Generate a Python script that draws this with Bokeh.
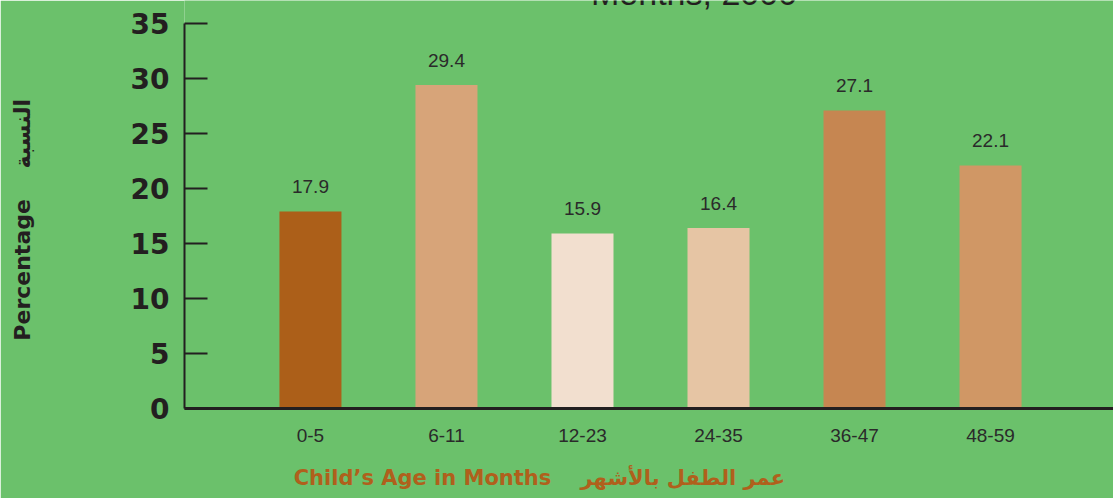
from bokeh.plotting import figure
from bokeh.models import Range1d, FixedTicker, Label, ColumnDataSource
from bokeh.core.properties import value
from bokeh.embed import file_html
from bokeh.resources import INLINE

# ---- data ----
categories = ["0-5", "6-11", "12-23", "24-35", "36-47", "48-59"]
percentages = [17.9, 29.4, 15.9, 16.4, 27.1, 22.1]
bar_colors = ["#ac5f19", "#d7a479", "#f2dfcf", "#e6c5a4", "#c68651", "#d09765"]
y_ticks = [0, 5, 10, 15, 20, 25, 30, 35]
title_text = "Months, 2000"
NB = "\u00a0"
x_title = "Child\u2019s Age in Months" + NB * 3 + " عمر الطفل بالأشهر" + NB * 30
y_title = "Percentage" + NB * 3 + " النسبة" + NB * 4

GREEN = "#6bc16b"
DARK = "#231f20"
ORANGE = "#b0601c"

xs = list(range(len(categories)))
src = ColumnDataSource(dict(
    x=xs,
    top=percentages,
    color=bar_colors,
    label=[f"{v:.1f}" for v in percentages],
))

p = figure(width=1113, height=498, output_backend="svg", toolbar_location=None,
           x_range=Range1d(-0.926, 5.904), y_range=Range1d(0, 37.09),
           min_border_left=184, min_border_right=0, min_border_top=0, min_border_bottom=90)

p.background_fill_color = GREEN
p.border_fill_color = GREEN
p.outline_line_color = None
p.grid.visible = False

p.vbar(x="x", top="top", width=0.456, fill_color="color", line_color=None, source=src)
p.text(x="x", y="top", text="label", source=src, text_align="center", text_baseline="middle",
       y_offset=-25, text_font=value("Liberation Sans"), text_font_size="19px", text_color="#2a2a2a")

# y axis
ya = p.yaxis[0]
ya.ticker = FixedTicker(ticks=y_ticks)
ya.bounds = (0, 35)
ya.axis_line_color = DARK
ya.axis_line_width = 2
ya.major_tick_line_color = DARK
ya.major_tick_line_width = 2
ya.major_tick_in = 23
ya.major_tick_out = 0
ya.minor_tick_line_color = None
ya.major_label_standoff = 15
ya.major_label_text_font = "DejaVu Sans"
ya.major_label_text_font_style = "bold"
ya.major_label_text_font_size = "28px"
ya.major_label_text_color = DARK
ya.axis_label = y_title
ya.axis_label_standoff = 93
ya.axis_label_text_font = "DejaVu Sans"
ya.axis_label_text_font_style = "bold"
ya.axis_label_text_font_size = "22px"
ya.axis_label_text_color = DARK

# x axis
xa = p.xaxis[0]
xa.ticker = FixedTicker(ticks=xs)
xa.major_label_overrides = {i: c for i, c in zip(xs, categories)}
xa.axis_line_color = DARK
xa.axis_line_width = 3
xa.major_tick_line_color = None
xa.minor_tick_line_color = None
xa.major_tick_in = 0
xa.major_tick_out = 0
xa.major_label_standoff = 20
xa.major_label_text_font = "Liberation Sans"
xa.major_label_text_font_size = "19px"
xa.major_label_text_color = "#2a2a2a"
xa.axis_label = x_title
xa.axis_label_standoff = 21
xa.axis_label_text_font = "DejaVu Sans"
xa.axis_label_text_font_style = "bold"
xa.axis_label_text_font_size = "21px"
xa.axis_label_text_color = ORANGE

# cut-off chart title at the very top
p.add_layout(Label(x=2.82, y=37.8, text=title_text, text_font="Liberation Sans",
                   text_font_size="34px", text_color=DARK,
                   text_align="center", text_baseline="alphabetic"))

open("out.html", "w").write(file_html(p, INLINE))
